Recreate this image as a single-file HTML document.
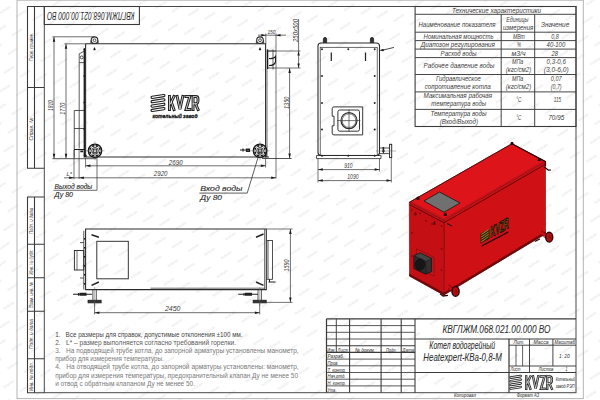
<!DOCTYPE html>
<html><head><meta charset="utf-8"><title>drawing</title>
<style>
html,body{margin:0;padding:0;background:#fff;overflow:hidden}
svg{display:block}
text{font-family:"Liberation Sans",sans-serif}
</style></head><body>
<svg width="600" height="400" viewBox="0 0 600 400">
<defs>
<pattern id="wm" width="16.8" height="19.2" patternUnits="userSpaceOnUse" patternTransform="translate(497 275.4) rotate(12.4) translate(-8.4 -9.6)">
<text x="8.4" y="10.6" font-size="2.9" font-weight="bold" fill="#e2e2e2" text-anchor="middle" textLength="12" lengthAdjust="spacingAndGlyphs" transform="rotate(-45.4 8.4 9.6)">KVZR.RU</text>
</pattern>
</defs>
<rect x="0" y="0" width="600" height="400" fill="#fff"/>
<rect x="0" y="0" width="600" height="400" fill="url(#wm)"/>

<rect x="17" y="0.2" width="566.3" height="398.4" fill="none" stroke="#b4b4b4" stroke-width="1.01" rx="0"/>
<rect x="44.3" y="6.5" width="531.7" height="386.2" fill="none" stroke="#444" stroke-width="0.97" rx="0"/>
<path d="M44.3,6.5H27.5V168.3H44.3 M34.5,6.5V168.3 M27.5,87.5H44.3" fill="none" stroke="#3a3a3a" stroke-width="1.08"/>
<path d="M44.3,197H27.5V392.7H44.3 M34.5,197V392.7 M27.5,244.2H44.3 M27.5,277.8H44.3 M27.5,311.3H44.3 M27.5,358.8H44.3" fill="none" stroke="#3a3a3a" stroke-width="1.08"/>
<text x="32.8" y="47" font-size="5.2" font-style="italic" fill="#3a3a3a" text-anchor="middle" textLength="28.5" lengthAdjust="spacingAndGlyphs" transform="rotate(-90 32.8 47)">Перв. примен.</text>
<text x="32.8" y="129" font-size="5.2" font-style="italic" fill="#3a3a3a" text-anchor="middle" textLength="23" lengthAdjust="spacingAndGlyphs" transform="rotate(-90 32.8 129)">Справ. №</text>
<text x="32.8" y="221" font-size="5.2" font-style="italic" fill="#3a3a3a" text-anchor="middle" textLength="26" lengthAdjust="spacingAndGlyphs" transform="rotate(-90 32.8 221)">Подп. и дата</text>
<text x="32.8" y="262" font-size="5.2" font-style="italic" fill="#3a3a3a" text-anchor="middle" textLength="25" lengthAdjust="spacingAndGlyphs" transform="rotate(-90 32.8 262)">Инв. № дубл.</text>
<text x="32.8" y="295" font-size="5.2" font-style="italic" fill="#3a3a3a" text-anchor="middle" textLength="26" lengthAdjust="spacingAndGlyphs" transform="rotate(-90 32.8 295)">Взам. инв. №</text>
<text x="32.8" y="334" font-size="5.2" font-style="italic" fill="#3a3a3a" text-anchor="middle" textLength="30" lengthAdjust="spacingAndGlyphs" transform="rotate(-90 32.8 334)">Подп. и дата</text>
<text x="32.8" y="376.5" font-size="5.2" font-style="italic" fill="#3a3a3a" text-anchor="middle" textLength="29" lengthAdjust="spacingAndGlyphs" transform="rotate(-90 32.8 376.5)">Инв. № подл.</text>
<rect x="44.3" y="6.5" width="95.1" height="18" fill="none" stroke="#3a3a3a" stroke-width="1.08" rx="0"/>
<text x="90.8" y="15.9" font-size="10.2" font-style="italic" fill="#2a2a2a" text-anchor="middle" textLength="87.5" lengthAdjust="spacingAndGlyphs" transform="rotate(180 90.8 15.9) translate(0 3.65)">КВГЛЖМ.068.021.00.000 ВО</text>
<path d="M85.6,43.8H265.6V157 H85.6 V43.8" fill="none" stroke="#2a2a2a" stroke-width="1.08"/>
<line x1="267" y1="69" x2="267" y2="157" stroke="#2a2a2a" stroke-width="0.68"/>
<line x1="52.5" y1="158.7" x2="96.5" y2="158.7" stroke="#2a2a2a" stroke-width="0.81"/>
<line x1="262" y1="158.5" x2="291.5" y2="158.5" stroke="#2a2a2a" stroke-width="0.81"/>
<circle cx="94.5" cy="40.2" r="3.3" fill="none" stroke="#2a2a2a" stroke-width="1.08"/>
<circle cx="94.5" cy="40.2" r="1.4" fill="none" stroke="#2a2a2a" stroke-width="0.81"/>
<line x1="90.9" y1="43.8" x2="90.9" y2="40.5" stroke="#2a2a2a" stroke-width="0.81"/>
<line x1="98.1" y1="43.8" x2="98.1" y2="40.5" stroke="#2a2a2a" stroke-width="0.81"/>
<path d="M94.5,47 l-1.2,2.4 a1.25,1.25 0 0 0 2.4,0 z" fill="#1a1a1a"/>
<circle cx="260" cy="40.2" r="3.3" fill="none" stroke="#2a2a2a" stroke-width="1.08"/>
<circle cx="260" cy="40.2" r="1.4" fill="none" stroke="#2a2a2a" stroke-width="0.81"/>
<line x1="256.4" y1="43.8" x2="256.4" y2="40.5" stroke="#2a2a2a" stroke-width="0.81"/>
<line x1="263.6" y1="43.8" x2="263.6" y2="40.5" stroke="#2a2a2a" stroke-width="0.81"/>
<path d="M260,47 l-1.2,2.4 a1.25,1.25 0 0 0 2.4,0 z" fill="#1a1a1a"/>
<path d="M79.2,53.8 V148.5 M84.3,51.2 L79.2,53.8 M79.2,62.6 H84.3" fill="none" stroke="#2a2a2a" stroke-width="0.75"/>
<line x1="84.3" y1="48.3" x2="84.3" y2="157.5" stroke="#1a1a1a" stroke-width="1.35"/>
<circle cx="81.7" cy="57.4" r="1.5" fill="none" stroke="#2a2a2a" stroke-width="0.81"/>
<circle cx="84.3" cy="49.5" r="0.9" fill="#1a1a1a"/>
<circle cx="84.3" cy="76" r="0.9" fill="#1a1a1a"/>
<circle cx="84.3" cy="102.5" r="0.9" fill="#1a1a1a"/>
<circle cx="84.3" cy="129" r="0.9" fill="#1a1a1a"/>
<path d="M74.25,110.5 V157.8 M74.25,110.5 H84 M74.25,128.5 H84 M74.25,149.5 H84" fill="none" stroke="#2a2a2a" stroke-width="0.8"/>
<circle cx="95" cy="150.8" r="6.7" fill="#fff" stroke="#111" stroke-width="1.28"/>
<circle cx="95" cy="150.8" r="5.2" fill="none" stroke="#2a2a2a" stroke-width="0.54"/>
<circle cx="95" cy="150.8" r="3.3" fill="none" stroke="#2a2a2a" stroke-width="0.94"/>
<rect x="93.4" y="149.20000000000002" width="3.2" height="3.2" fill="none" stroke="#222" stroke-width="0.81" rx="0"/>
<circle cx="99.71" cy="152.75" r="1.0" fill="#111"/>
<circle cx="96.95" cy="155.51" r="1.0" fill="#111"/>
<circle cx="93.05" cy="155.51" r="1.0" fill="#111"/>
<circle cx="90.29" cy="152.75" r="1.0" fill="#111"/>
<circle cx="90.29" cy="148.85" r="1.0" fill="#111"/>
<circle cx="93.05" cy="146.09" r="1.0" fill="#111"/>
<circle cx="96.95" cy="146.09" r="1.0" fill="#111"/>
<circle cx="99.71" cy="148.85" r="1.0" fill="#111"/>
<line x1="85.5" y1="150.8" x2="104.5" y2="150.8" stroke="#666" stroke-width="0.47"/>
<line x1="95" y1="141.3" x2="95" y2="160.3" stroke="#666" stroke-width="0.47"/>
<circle cx="260" cy="150.8" r="6.7" fill="#fff" stroke="#111" stroke-width="1.28"/>
<circle cx="260" cy="150.8" r="5.2" fill="none" stroke="#2a2a2a" stroke-width="0.54"/>
<circle cx="260" cy="150.8" r="3.3" fill="none" stroke="#2a2a2a" stroke-width="0.94"/>
<rect x="258.4" y="149.20000000000002" width="3.2" height="3.2" fill="none" stroke="#222" stroke-width="0.81" rx="0"/>
<circle cx="264.71" cy="152.75" r="1.0" fill="#111"/>
<circle cx="261.95" cy="155.51" r="1.0" fill="#111"/>
<circle cx="258.05" cy="155.51" r="1.0" fill="#111"/>
<circle cx="255.29" cy="152.75" r="1.0" fill="#111"/>
<circle cx="255.29" cy="148.85" r="1.0" fill="#111"/>
<circle cx="258.05" cy="146.09" r="1.0" fill="#111"/>
<circle cx="261.95" cy="146.09" r="1.0" fill="#111"/>
<circle cx="264.71" cy="148.85" r="1.0" fill="#111"/>
<line x1="250.5" y1="150.8" x2="269.5" y2="150.8" stroke="#666" stroke-width="0.47"/>
<line x1="260" y1="141.3" x2="260" y2="160.3" stroke="#666" stroke-width="0.47"/>
<path d="M74,149.5 H85" stroke="#1a1a1a" stroke-width="1.0" fill="none"/><path d="M80.3,151.4 h2.8 M84,154.5 l2.5,2" stroke="#1a1a1a" stroke-width="1.7" fill="none"/>
<path d="M240,150 h9 M243,148.6 v3 M246.5,149 h3 v2.4 h-3 z" stroke="#222" stroke-width="1.22" fill="none"/>
<path d="M266,152 v5 h3" stroke="#222" stroke-width="1.08" fill="none"/>
<path d="M267,51 H276 M267,68 H276 M273,49.4 V69.5" fill="none" stroke="#2a2a2a" stroke-width="0.75"/>
<line x1="267.5" y1="49.4" x2="267.5" y2="69" stroke="#1a1a1a" stroke-width="1.55"/>
<path d="M269,58.5 q5,0.5 6.5,-2 v5.5 q-1,3.5 -6.5,3.5" fill="none" stroke="#1a1a1a" stroke-width="1.1"/>
<line x1="54" y1="37" x2="54" y2="158.6" stroke="#2a2a2a" stroke-width="0.68"/>
<line x1="52.5" y1="36.8" x2="94.5" y2="36.8" stroke="#2a2a2a" stroke-width="0.68"/>
<polygon points="54,36.9 52.75,41.699999999999996 55.25,41.699999999999996" fill="#1a1a1a"/>
<polygon points="54,158.6 52.75,153.79999999999998 55.25,153.79999999999998" fill="#1a1a1a"/>
<line x1="66" y1="44" x2="66" y2="158.6" stroke="#2a2a2a" stroke-width="0.68"/>
<line x1="64.5" y1="43.8" x2="85.6" y2="43.8" stroke="#2a2a2a" stroke-width="0.68"/>
<polygon points="66,43.9 64.75,48.699999999999996 67.25,48.699999999999996" fill="#1a1a1a"/>
<polygon points="66,158.6 64.75,153.79999999999998 67.25,153.79999999999998" fill="#1a1a1a"/>
<text x="53.0" y="105.6" font-size="6.6" font-style="italic" fill="#3a3a3a" text-anchor="middle" textLength="10.8" lengthAdjust="spacingAndGlyphs" transform="rotate(-90 53.0 105.6)">1810</text>
<text x="64.6" y="108.7" font-size="6.6" font-style="italic" fill="#3a3a3a" text-anchor="middle" textLength="12" lengthAdjust="spacingAndGlyphs" transform="rotate(-90 64.6 108.7)">1770</text>
<line x1="258" y1="35.2" x2="286" y2="35.2" stroke="#2a2a2a" stroke-width="0.68"/>
<line x1="276" y1="33.5" x2="276" y2="178.5" stroke="#333" stroke-width="0.68"/>
<line x1="265.8" y1="33.5" x2="265.8" y2="43.8" stroke="#333" stroke-width="0.68"/>
<polygon points="265.8,35.2 261.3,34.0 261.3,36.400000000000006" fill="#1a1a1a"/>
<polygon points="276,35.2 280.5,34.0 280.5,36.400000000000006" fill="#1a1a1a"/>
<text x="267.4" y="33.8" font-size="5.6" font-style="italic" font-weight="normal" fill="#3a3a3a" stroke="#3a3a3a" stroke-width="0" textLength="8.20" lengthAdjust="spacingAndGlyphs">150</text>
<line x1="267" y1="51" x2="300.5" y2="51" stroke="#333" stroke-width="0.68"/>
<line x1="276" y1="68" x2="300.5" y2="68" stroke="#333" stroke-width="0.68"/>
<line x1="298.6" y1="19" x2="298.6" y2="68" stroke="#2a2a2a" stroke-width="0.68"/>
<polygon points="298.6,51 297.40000000000003,55.5 299.8,55.5" fill="#1a1a1a"/>
<polygon points="298.6,68 297.40000000000003,63.5 299.8,63.5" fill="#1a1a1a"/>
<text x="297.6" y="30.5" font-size="6.4" font-style="italic" fill="#3a3a3a" text-anchor="middle" textLength="23" lengthAdjust="spacingAndGlyphs" transform="rotate(-90 297.6 30.5)">250x500</text>
<line x1="289.6" y1="68" x2="289.6" y2="158.4" stroke="#2a2a2a" stroke-width="0.68"/>
<polygon points="289.6,68.1 288.35,72.89999999999999 290.85,72.89999999999999" fill="#1a1a1a"/>
<polygon points="289.6,158.4 288.35,153.6 290.85,153.6" fill="#1a1a1a"/>
<text x="288.8" y="102.8" font-size="6.6" font-style="italic" fill="#3a3a3a" text-anchor="middle" textLength="12.5" lengthAdjust="spacingAndGlyphs" transform="rotate(-90 288.8 102.8)">1350</text>
<line x1="85.6" y1="165.8" x2="265.6" y2="165.8" stroke="#2a2a2a" stroke-width="0.68"/>
<line x1="85.6" y1="158" x2="85.6" y2="167.5" stroke="#333" stroke-width="0.68"/>
<line x1="265.6" y1="158" x2="265.6" y2="167.5" stroke="#333" stroke-width="0.68"/>
<polygon points="85.6,165.8 90.39999999999999,164.55 90.39999999999999,167.05" fill="#1a1a1a"/>
<polygon points="265.6,165.8 260.8,164.55 260.8,167.05" fill="#1a1a1a"/>
<text x="168.8" y="164.8" font-size="6.6" font-style="italic" font-weight="normal" fill="#3a3a3a" stroke="#3a3a3a" stroke-width="0" textLength="13.80" lengthAdjust="spacingAndGlyphs">2690</text>
<line x1="64" y1="177.8" x2="276" y2="177.8" stroke="#2a2a2a" stroke-width="0.68"/>
<line x1="79.1" y1="150" x2="79.1" y2="179" stroke="#333" stroke-width="0.68"/>
<line x1="74" y1="150" x2="74" y2="179" stroke="#333" stroke-width="0.68"/>
<polygon points="79.1,177.8 83.89999999999999,176.55 83.89999999999999,179.05" fill="#1a1a1a"/>
<polygon points="276,177.8 271.2,176.55 271.2,179.05" fill="#1a1a1a"/>
<polygon points="74,177.8 69.2,176.55 69.2,179.05" fill="#1a1a1a"/>
<text x="153.8" y="176" font-size="6.6" font-style="italic" font-weight="normal" fill="#3a3a3a" stroke="#3a3a3a" stroke-width="0" textLength="13.70" lengthAdjust="spacingAndGlyphs">2920</text>
<text x="66.5" y="176" font-size="6.2" font-style="italic" font-weight="normal" fill="#3a3a3a" stroke="#3a3a3a" stroke-width="0" textLength="5.50" lengthAdjust="spacingAndGlyphs">L*</text>
<path d="M97,157.5 V190.3 H53.5" fill="none" stroke="#2a2a2a" stroke-width="0.68"/>
<text x="54.6" y="188.6" font-size="7.3" font-style="italic" font-weight="normal" fill="#222" stroke="#222" stroke-width="0.1" textLength="37.70" lengthAdjust="spacingAndGlyphs">Выход воды</text>
<text x="54.6" y="197.4" font-size="7.3" font-style="italic" font-weight="normal" fill="#222" stroke="#222" stroke-width="0.1" textLength="18.40" lengthAdjust="spacingAndGlyphs">Ду 80</text>
<path d="M260,151 L247.2,193.1 H199.3" fill="none" stroke="#2a2a2a" stroke-width="0.75"/>
<text x="200.3" y="190.8" font-size="8.1" font-style="italic" font-weight="normal" fill="#222" stroke="#222" stroke-width="0.1" textLength="42.20" lengthAdjust="spacingAndGlyphs">Вход воды</text>
<text x="200.3" y="200" font-size="8.1" font-style="italic" font-weight="normal" fill="#222" stroke="#222" stroke-width="0.1" textLength="21.70" lengthAdjust="spacingAndGlyphs">Ду 80</text>
<path d="M152.15,97.39 L163.85,95.56 M152.15,101.74 L163.85,99.91 M152.15,106.09 L163.85,104.26 M152.15,110.44 L163.85,108.61 " fill="none" stroke="#1e1e1e" stroke-width="3.3" stroke-linecap="round"/>
<path d="M152.15,97.39 L163.85,95.56 M152.15,101.74 L163.85,99.91 M152.15,106.09 L163.85,104.26 M152.15,110.44 L163.85,108.61 " fill="none" stroke="#fff" stroke-width="1.1" stroke-linecap="round"/>
<path d="M169.45,96.45 V109.55 M173.95,96.45 L170.34,103.96 M171.11,101.40 L173.95,109.55 M177.17,96.45 L179.97,109.11 L182.77,96.45 M185.99,96.45 H189.86 L185.99,109.55 H189.86 M193.07,109.55 V96.45 H195.96 Q198.05,96.45 198.05,99.48 Q198.05,103.80 195.96,103.80 H193.07 M195.56,103.80 L198.05,109.55" fill="none" stroke="#1e1e1e" stroke-width="2.9" stroke-linecap="square" stroke-linejoin="miter"/>
<path d="M169.45,96.45 V109.55 M173.95,96.45 L170.34,103.96 M171.11,101.40 L173.95,109.55 M177.17,96.45 L179.97,109.11 L182.77,96.45 M185.99,96.45 H189.86 L185.99,109.55 H189.86 M193.07,109.55 V96.45 H195.96 Q198.05,96.45 198.05,99.48 Q198.05,103.80 195.96,103.80 H193.07 M195.56,103.80 L198.05,109.55" fill="none" stroke="#fff" stroke-width="0.75" stroke-linecap="square" stroke-linejoin="miter"/>
<text x="152.5" y="117.6" font-size="5.6" font-style="italic" font-weight="bold" fill="#1a1a1a" stroke="#1a1a1a" stroke-width="0.3" textLength="45.00" lengthAdjust="spacingAndGlyphs">котельный завод</text>
<rect x="318" y="43" width="61.5" height="112.5" fill="none" stroke="#2a2a2a" stroke-width="1.08" rx="3"/>
<rect x="320.2" y="47.3" width="57" height="108" fill="none" stroke="#2a2a2a" stroke-width="0.68" rx="0"/>
<path d="M316.5,155.5 H381 V158.6 H316.5 Z" fill="none" stroke="#2a2a2a" stroke-width="0.81"/>
<path d="M323.4,43 V39 a1.6,1.6 0 0 1 3.2,0 V43" fill="#333" stroke="#222" stroke-width="0.81"/>
<path d="M370.4,43 V39 a1.6,1.6 0 0 1 3.2,0 V43" fill="#333" stroke="#222" stroke-width="0.81"/>
<circle cx="322" cy="49.3" r="0.95" fill="#1a1a1a"/>
<circle cx="348.3" cy="49.3" r="0.95" fill="#1a1a1a"/>
<circle cx="374.7" cy="49.3" r="0.95" fill="#1a1a1a"/>
<circle cx="322" cy="76" r="0.95" fill="#1a1a1a"/>
<circle cx="374.7" cy="76" r="0.95" fill="#1a1a1a"/>
<circle cx="322" cy="103" r="0.95" fill="#1a1a1a"/>
<circle cx="374.7" cy="103" r="0.95" fill="#1a1a1a"/>
<circle cx="322" cy="129.5" r="0.95" fill="#1a1a1a"/>
<circle cx="374.7" cy="129.5" r="0.95" fill="#1a1a1a"/>
<circle cx="322" cy="155.8" r="0.95" fill="#1a1a1a"/>
<circle cx="348.3" cy="155.8" r="0.95" fill="#1a1a1a"/>
<circle cx="374.7" cy="155.8" r="0.95" fill="#1a1a1a"/>
<line x1="331.3" y1="52.5" x2="331.3" y2="61" stroke="#222" stroke-width="1.22"/>
<line x1="365.5" y1="52.5" x2="365.5" y2="61" stroke="#222" stroke-width="1.22"/>
<path d="M379.5,50.5 l3,-1.5 l3,0.5 l-2.5,1.8 z" fill="#222"/>
<line x1="385" y1="49.6" x2="394" y2="47.4" stroke="#222" stroke-width="0.81"/>
<path d="M334,106.9 H362.7 V134.9 H334 a1.8,1.8 0 0 1 -1.8,-1.8 V125.8 h1.8 V116.2 h-1.8 V108.7 a1.8,1.8 0 0 1 1.8,-1.8 Z" fill="none" stroke="#2a2a2a" stroke-width="0.94"/>
<rect x="337.9" y="110" width="21.6" height="21.2" fill="none" stroke="#2a2a2a" stroke-width="0.94" rx="1.8"/>
<circle cx="349" cy="120.6" r="8.0" fill="none" stroke="#2a2a2a" stroke-width="1.15"/>
<circle cx="349" cy="120.6" r="6.8" fill="none" stroke="#2a2a2a" stroke-width="0.61"/>
<line x1="337" y1="120.6" x2="360.4" y2="120.6" stroke="#333" stroke-width="0.68"/>
<line x1="349" y1="109.6" x2="349" y2="131.8" stroke="#333" stroke-width="0.68"/>
<path d="M379.5,148 H389.8 M379.5,153.6 H389.8" stroke="#2a2a2a" stroke-width="0.81" fill="none"/>
<rect x="389.6" y="144.3" width="2.1" height="13.3" fill="none" stroke="#222" stroke-width="0.94" rx="0"/>
<path d="M383.4,147 v5" stroke="#222" stroke-width="1.6" fill="none"/>
<path d="M381.8,150.6 l3.2,0 l-1.6,3 z" fill="#1a1a1a"/>
<line x1="376" y1="151" x2="396" y2="151" stroke="#666" stroke-width="0.47"/>
<line x1="318" y1="158.6" x2="318" y2="182.5" stroke="#333" stroke-width="0.68"/>
<line x1="379.5" y1="158.6" x2="379.5" y2="171.5" stroke="#333" stroke-width="0.68"/>
<line x1="391.3" y1="157.5" x2="391.3" y2="182.5" stroke="#333" stroke-width="0.68"/>
<line x1="318" y1="169.6" x2="379.5" y2="169.6" stroke="#2a2a2a" stroke-width="0.68"/>
<polygon points="318,169.6 322.8,168.35 322.8,170.85" fill="#1a1a1a"/>
<polygon points="379.5,169.6 374.7,168.35 374.7,170.85" fill="#1a1a1a"/>
<text x="344.3" y="168.4" font-size="6.4" font-style="italic" font-weight="normal" fill="#3a3a3a" stroke="#3a3a3a" stroke-width="0" textLength="8.30" lengthAdjust="spacingAndGlyphs">910</text>
<line x1="318" y1="180.6" x2="391.3" y2="180.6" stroke="#2a2a2a" stroke-width="0.68"/>
<polygon points="318,180.6 322.8,179.35 322.8,181.85" fill="#1a1a1a"/>
<polygon points="391.3,180.6 386.5,179.35 386.5,181.85" fill="#1a1a1a"/>
<text x="347.3" y="179.4" font-size="6.4" font-style="italic" font-weight="normal" fill="#3a3a3a" stroke="#3a3a3a" stroke-width="0" textLength="11.30" lengthAdjust="spacingAndGlyphs">1090</text>
<path d="M85.6,229 H266.3 V289.6 H85.6 Z" fill="none" stroke="#2a2a2a" stroke-width="1.08"/>
<line x1="264.6" y1="229" x2="264.6" y2="289.6" stroke="#2a2a2a" stroke-width="0.68"/>
<line x1="150.5" y1="288.2" x2="264.6" y2="288.2" stroke="#2a2a2a" stroke-width="0.68"/>
<rect x="96.8" y="241.3" width="31.5" height="37.5" fill="none" stroke="#2a2a2a" stroke-width="0.94" rx="0"/>
<line x1="91.5" y1="234.7" x2="98.9" y2="237.3" stroke="#222" stroke-width="1.49"/>
<line x1="91.5" y1="285.4" x2="98.9" y2="282" stroke="#222" stroke-width="1.49"/>
<line x1="256" y1="237.3" x2="263.5" y2="234" stroke="#222" stroke-width="1.49"/>
<line x1="256" y1="282" x2="263.5" y2="285.4" stroke="#222" stroke-width="1.49"/>
<line x1="83.8" y1="230.8" x2="83.8" y2="289.6" stroke="#2a2a2a" stroke-width="0.81"/>
<rect x="74.4" y="250.5" width="9.4" height="19.5" fill="none" stroke="#2a2a2a" stroke-width="0.94" rx="0"/>
<line x1="77" y1="250.5" x2="77" y2="270" stroke="#2a2a2a" stroke-width="0.68"/>
<line x1="80" y1="242.6" x2="83.8" y2="242.6" stroke="#2a2a2a" stroke-width="0.81"/>
<line x1="80" y1="278" x2="83.8" y2="278" stroke="#2a2a2a" stroke-width="0.81"/>
<line x1="84.7" y1="238" x2="84.7" y2="239.6" stroke="#222" stroke-width="1.62"/>
<line x1="84.7" y1="247" x2="84.7" y2="248.6" stroke="#222" stroke-width="1.62"/>
<line x1="84.7" y1="256" x2="84.7" y2="257.6" stroke="#222" stroke-width="1.62"/>
<line x1="84.7" y1="265" x2="84.7" y2="266.6" stroke="#222" stroke-width="1.62"/>
<line x1="84.7" y1="274" x2="84.7" y2="275.6" stroke="#222" stroke-width="1.62"/>
<line x1="84.7" y1="283" x2="84.7" y2="284.6" stroke="#222" stroke-width="1.62"/>
<line x1="92.89999999999999" y1="289.6" x2="92.89999999999999" y2="300.3" stroke="#2a2a2a" stroke-width="0.81"/>
<line x1="96.3" y1="289.6" x2="96.3" y2="300.3" stroke="#2a2a2a" stroke-width="0.81"/>
<rect x="88.1" y="300.3" width="13" height="2.5" fill="#333" stroke="#222" stroke-width="0.94" rx="0"/>
<line x1="94.6" y1="287" x2="94.6" y2="306" stroke="#666" stroke-width="0.47"/>
<line x1="258.0" y1="289.6" x2="258.0" y2="300.3" stroke="#2a2a2a" stroke-width="0.81"/>
<line x1="261.4" y1="289.6" x2="261.4" y2="300.3" stroke="#2a2a2a" stroke-width="0.81"/>
<rect x="253.2" y="300.3" width="13" height="2.5" fill="#333" stroke="#222" stroke-width="0.94" rx="0"/>
<line x1="259.7" y1="287" x2="259.7" y2="306" stroke="#666" stroke-width="0.47"/>
<path d="M73,294.3 H92 M78.5,293 v2.8 M80,293.3 h6 v2 h-6 z" stroke="#222" stroke-width="1.08" fill="none"/>
<path d="M238.3,294.3 H258 M244,293 v2.8 M245.5,293.3 h6 v2 h-6 z" stroke="#222" stroke-width="1.08" fill="none"/>
<rect x="268" y="240.5" width="4.4" height="38.8" fill="none" stroke="#2a2a2a" stroke-width="0.81" rx="0"/>
<line x1="266.3" y1="240.5" x2="268" y2="240.5" stroke="#2a2a2a" stroke-width="0.68"/>
<line x1="266.3" y1="279.3" x2="268" y2="279.3" stroke="#2a2a2a" stroke-width="0.68"/>
<path d="M268.5,282 H275.5 M269.5,279.3 V282" stroke="#222" stroke-width="1.08" fill="none"/>
<line x1="94.6" y1="303" x2="94.6" y2="314.5" stroke="#333" stroke-width="0.68"/>
<line x1="259.7" y1="303" x2="259.7" y2="314.5" stroke="#333" stroke-width="0.68"/>
<line x1="94.6" y1="312.7" x2="259.7" y2="312.7" stroke="#2a2a2a" stroke-width="0.68"/>
<polygon points="94.6,312.7 99.39999999999999,311.45 99.39999999999999,313.95" fill="#1a1a1a"/>
<polygon points="259.7,312.7 254.89999999999998,311.45 254.89999999999998,313.95" fill="#1a1a1a"/>
<text x="165" y="311.3" font-size="6.4" font-style="italic" font-weight="normal" fill="#3a3a3a" stroke="#3a3a3a" stroke-width="0" textLength="15.50" lengthAdjust="spacingAndGlyphs">2450</text>
<line x1="266.3" y1="229" x2="292.5" y2="229" stroke="#333" stroke-width="0.68"/>
<line x1="266.3" y1="302.4" x2="292.5" y2="302.4" stroke="#333" stroke-width="0.68"/>
<line x1="290.4" y1="229" x2="290.4" y2="302.4" stroke="#2a2a2a" stroke-width="0.68"/>
<polygon points="290.4,229.1 289.15,233.9 291.65,233.9" fill="#1a1a1a"/>
<polygon points="290.4,302.3 289.15,297.5 291.65,297.5" fill="#1a1a1a"/>
<text x="289.2" y="265.5" font-size="6.6" font-style="italic" fill="#3a3a3a" text-anchor="middle" textLength="12" lengthAdjust="spacingAndGlyphs" transform="rotate(-90 289.2 265.5)">1590</text>
<text x="55.2" y="336.8" font-size="7.2" font-style="normal" font-weight="normal" fill="#444" stroke="#444" stroke-width="0" textLength="187.30" lengthAdjust="spacingAndGlyphs">1.&#160;&#160;&#160;Все размеры для справок, допустимые отклонения ±100 мм.</text>
<text x="55.2" y="344.9" font-size="7.2" font-style="normal" font-weight="normal" fill="#5a5a5a" stroke="#5a5a5a" stroke-width="0" textLength="180.80" lengthAdjust="spacingAndGlyphs">2.&#160;&#160;&#160;L* – размер выполняется согласно требований горелки.</text>
<text x="55.2" y="353.2" font-size="7.2" font-style="normal" font-weight="normal" fill="#7a7a7a" stroke="#7a7a7a" stroke-width="0" textLength="243.50" lengthAdjust="spacingAndGlyphs">3.&#160;&#160;&#160;На подводящей трубе котла, до запорной арматуры установлены манометр,</text>
<text x="55.2" y="361.3" font-size="7.2" font-style="normal" font-weight="normal" fill="#7a7a7a" stroke="#7a7a7a" stroke-width="0" textLength="108.50" lengthAdjust="spacingAndGlyphs">прибор для измерения температуры.</text>
<text x="55.2" y="369.4" font-size="7.2" font-style="normal" font-weight="normal" fill="#7a7a7a" stroke="#7a7a7a" stroke-width="0" textLength="243.50" lengthAdjust="spacingAndGlyphs">4.&#160;&#160;&#160;На отводящей трубе котла, до запорной арматуры установлены: манометр,</text>
<text x="55.2" y="377.6" font-size="7.2" font-style="normal" font-weight="normal" fill="#7a7a7a" stroke="#7a7a7a" stroke-width="0" textLength="242.80" lengthAdjust="spacingAndGlyphs">прибор для измерения температуры, предохранительный клапан Ду не менее 50</text>
<text x="55.2" y="385.9" font-size="7.2" font-style="normal" font-weight="normal" fill="#7a7a7a" stroke="#7a7a7a" stroke-width="0" textLength="139.80" lengthAdjust="spacingAndGlyphs">и отвод с обратным клапаном Ду не менее 50.</text>
<rect x="415.1" y="6.5" width="160.89999999999998" height="120.0" fill="none" stroke="#3a3a3a" stroke-width="1.08" rx="0"/>
<line x1="415.1" y1="14.3" x2="576" y2="14.3" stroke="#3a3a3a" stroke-width="0.94"/>
<line x1="415.1" y1="32.2" x2="576" y2="32.2" stroke="#3a3a3a" stroke-width="0.94"/>
<line x1="415.1" y1="40.6" x2="576" y2="40.6" stroke="#3a3a3a" stroke-width="0.94"/>
<line x1="415.1" y1="49.1" x2="576" y2="49.1" stroke="#3a3a3a" stroke-width="0.94"/>
<line x1="415.1" y1="57.6" x2="576" y2="57.6" stroke="#3a3a3a" stroke-width="0.94"/>
<line x1="415.1" y1="74.5" x2="576" y2="74.5" stroke="#3a3a3a" stroke-width="0.94"/>
<line x1="415.1" y1="91.9" x2="576" y2="91.9" stroke="#3a3a3a" stroke-width="0.94"/>
<line x1="415.1" y1="109.4" x2="576" y2="109.4" stroke="#3a3a3a" stroke-width="0.94"/>
<line x1="501.2" y1="14.3" x2="501.2" y2="126.5" stroke="#3a3a3a" stroke-width="0.94"/>
<line x1="534.7" y1="14.3" x2="534.7" y2="126.5" stroke="#3a3a3a" stroke-width="0.94"/>
<text x="452" y="12.6" font-size="6.6" font-style="italic" font-weight="normal" fill="#3c3c3c" stroke="#3c3c3c" stroke-width="0" textLength="89.00" lengthAdjust="spacingAndGlyphs">Технические характеристики</text>
<text x="418.5" y="26.9" font-size="6.6" font-style="italic" font-weight="normal" fill="#3c3c3c" stroke="#3c3c3c" stroke-width="0" textLength="77.10" lengthAdjust="spacingAndGlyphs">Наименование показателя</text>
<text x="506.3" y="21.6" font-size="6.6" font-style="italic" font-weight="normal" fill="#3c3c3c" stroke="#3c3c3c" stroke-width="0" textLength="22.10" lengthAdjust="spacingAndGlyphs">Единицы</text>
<text x="503" y="30" font-size="6.6" font-style="italic" font-weight="normal" fill="#3c3c3c" stroke="#3c3c3c" stroke-width="0" textLength="30.30" lengthAdjust="spacingAndGlyphs">измерения</text>
<text x="541" y="26.9" font-size="6.6" font-style="italic" font-weight="normal" fill="#3c3c3c" stroke="#3c3c3c" stroke-width="0" textLength="28.30" lengthAdjust="spacingAndGlyphs">Значение</text>
<text x="423.6" y="38.9" font-size="6.6" font-style="italic" font-weight="normal" fill="#3c3c3c" stroke="#3c3c3c" stroke-width="0" textLength="70.00" lengthAdjust="spacingAndGlyphs">Номинальная мощность</text>
<text x="512.9" y="38.9" font-size="6.6" font-style="italic" font-weight="normal" fill="#3c3c3c" stroke="#3c3c3c" stroke-width="0" textLength="11.90" lengthAdjust="spacingAndGlyphs">МВт</text>
<text x="551.2" y="38.9" font-size="6.6" font-style="italic" font-weight="normal" fill="#3c3c3c" stroke="#3c3c3c" stroke-width="0" textLength="7.60" lengthAdjust="spacingAndGlyphs">0,8</text>
<text x="420.8" y="47.3" font-size="6.6" font-style="italic" font-weight="normal" fill="#3c3c3c" stroke="#3c3c3c" stroke-width="0" textLength="74.20" lengthAdjust="spacingAndGlyphs">Диапозон регулирования</text>
<text x="517" y="47.3" font-size="6.6" font-style="italic" font-weight="normal" fill="#3c3c3c" stroke="#3c3c3c" stroke-width="0" textLength="4.00" lengthAdjust="spacingAndGlyphs">%</text>
<text x="546.6" y="47.3" font-size="6.6" font-style="italic" font-weight="normal" fill="#3c3c3c" stroke="#3c3c3c" stroke-width="0" textLength="18.70" lengthAdjust="spacingAndGlyphs">40-100</text>
<text x="440.6" y="55.8" font-size="6.6" font-style="italic" font-weight="normal" fill="#3c3c3c" stroke="#3c3c3c" stroke-width="0" textLength="36.00" lengthAdjust="spacingAndGlyphs">Расход воды</text>
<text x="511.4" y="55.8" font-size="6.6" font-style="italic" font-weight="normal" fill="#3c3c3c" stroke="#3c3c3c" stroke-width="0" textLength="14.20" lengthAdjust="spacingAndGlyphs">м3/ч</text>
<text x="551.4" y="55.8" font-size="6.6" font-style="italic" font-weight="normal" fill="#3c3c3c" stroke="#3c3c3c" stroke-width="0" textLength="6.60" lengthAdjust="spacingAndGlyphs">28</text>
<text x="423.6" y="68.2" font-size="6.6" font-style="italic" font-weight="normal" fill="#3c3c3c" stroke="#3c3c3c" stroke-width="0" textLength="70.80" lengthAdjust="spacingAndGlyphs">Рабочее давление воды</text>
<text x="512" y="63.6" font-size="6.6" font-style="italic" font-weight="normal" fill="#3c3c3c" stroke="#3c3c3c" stroke-width="0" textLength="11.30" lengthAdjust="spacingAndGlyphs">МПа</text>
<text x="505.8" y="72.1" font-size="6.6" font-style="italic" font-weight="normal" fill="#3c3c3c" stroke="#3c3c3c" stroke-width="0" textLength="25.50" lengthAdjust="spacingAndGlyphs">(кгс/см2)</text>
<text x="546.6" y="63.6" font-size="6.6" font-style="italic" font-weight="normal" fill="#3c3c3c" stroke="#3c3c3c" stroke-width="0" textLength="19.30" lengthAdjust="spacingAndGlyphs">0,3-0,6</text>
<text x="543.7" y="72.1" font-size="6.6" font-style="italic" font-weight="normal" fill="#3c3c3c" stroke="#3c3c3c" stroke-width="0" textLength="25.00" lengthAdjust="spacingAndGlyphs">(3,0-6,0)</text>
<text x="436" y="80.8" font-size="6.6" font-style="italic" font-weight="normal" fill="#3c3c3c" stroke="#3c3c3c" stroke-width="0" textLength="44.80" lengthAdjust="spacingAndGlyphs">Гидравлическое</text>
<text x="424.7" y="89.3" font-size="6.6" font-style="italic" font-weight="normal" fill="#3c3c3c" stroke="#3c3c3c" stroke-width="0" textLength="66.10" lengthAdjust="spacingAndGlyphs">сопротивление котла</text>
<text x="512" y="80.8" font-size="6.6" font-style="italic" font-weight="normal" fill="#3c3c3c" stroke="#3c3c3c" stroke-width="0" textLength="11.30" lengthAdjust="spacingAndGlyphs">МПа</text>
<text x="505.8" y="89.3" font-size="6.6" font-style="italic" font-weight="normal" fill="#3c3c3c" stroke="#3c3c3c" stroke-width="0" textLength="25.50" lengthAdjust="spacingAndGlyphs">(кгс/см2)</text>
<text x="550.8" y="80.8" font-size="6.6" font-style="italic" font-weight="normal" fill="#3c3c3c" stroke="#3c3c3c" stroke-width="0" textLength="10.80" lengthAdjust="spacingAndGlyphs">0,07</text>
<text x="550.8" y="89.3" font-size="6.6" font-style="italic" font-weight="normal" fill="#3c3c3c" stroke="#3c3c3c" stroke-width="0" textLength="10.80" lengthAdjust="spacingAndGlyphs">(0,7)</text>
<text x="423.6" y="97.6" font-size="6.6" font-style="italic" font-weight="normal" fill="#3c3c3c" stroke="#3c3c3c" stroke-width="0" textLength="68.60" lengthAdjust="spacingAndGlyphs">Максимальная рабочая</text>
<text x="431.3" y="106.2" font-size="6.6" font-style="italic" font-weight="normal" fill="#3c3c3c" stroke="#3c3c3c" stroke-width="0" textLength="54.70" lengthAdjust="spacingAndGlyphs">температура воды</text>
<text x="516.3" y="102" font-size="6.6" font-style="italic" font-weight="normal" fill="#3c3c3c" stroke="#3c3c3c" stroke-width="0" textLength="5.00" lengthAdjust="spacingAndGlyphs">°C</text>
<text x="553.8" y="102" font-size="6.6" font-style="italic" font-weight="normal" fill="#3c3c3c" stroke="#3c3c3c" stroke-width="0" textLength="7.20" lengthAdjust="spacingAndGlyphs">115</text>
<text x="430.4" y="115.6" font-size="6.6" font-style="italic" font-weight="normal" fill="#3c3c3c" stroke="#3c3c3c" stroke-width="0" textLength="56.10" lengthAdjust="spacingAndGlyphs">Температура воды</text>
<text x="439.8" y="124.2" font-size="6.6" font-style="italic" font-weight="normal" fill="#3c3c3c" stroke="#3c3c3c" stroke-width="0" textLength="38.20" lengthAdjust="spacingAndGlyphs">(Вход/Выход)</text>
<text x="516.3" y="120" font-size="6.6" font-style="italic" font-weight="normal" fill="#3c3c3c" stroke="#3c3c3c" stroke-width="0" textLength="5.00" lengthAdjust="spacingAndGlyphs">°C</text>
<text x="548.3" y="120" font-size="6.6" font-style="italic" font-weight="normal" fill="#3c3c3c" stroke="#3c3c3c" stroke-width="0" textLength="16.10" lengthAdjust="spacingAndGlyphs">70/95</text>
<line x1="326.5" y1="318.9" x2="576" y2="318.9" stroke="#3a3a3a" stroke-width="1.22"/>
<line x1="326.5" y1="318.9" x2="326.5" y2="392.7" stroke="#3a3a3a" stroke-width="1.22"/>
<line x1="336.3" y1="318.9" x2="336.3" y2="352.4" stroke="#3a3a3a" stroke-width="0.94"/>
<line x1="349.6" y1="318.9" x2="349.6" y2="392.7" stroke="#3a3a3a" stroke-width="1.08"/>
<line x1="381.1" y1="318.9" x2="381.1" y2="392.7" stroke="#3a3a3a" stroke-width="1.08"/>
<line x1="401.2" y1="318.9" x2="401.2" y2="392.7" stroke="#3a3a3a" stroke-width="1.08"/>
<line x1="415" y1="318.9" x2="415" y2="392.7" stroke="#3a3a3a" stroke-width="1.08"/>
<line x1="326.5" y1="325.6" x2="415" y2="325.6" stroke="#3a3a3a" stroke-width="0.84"/>
<line x1="326.5" y1="332.3" x2="415" y2="332.3" stroke="#3a3a3a" stroke-width="0.84"/>
<line x1="326.5" y1="339.0" x2="415" y2="339.0" stroke="#3a3a3a" stroke-width="0.84"/>
<line x1="326.5" y1="345.7" x2="415" y2="345.7" stroke="#3a3a3a" stroke-width="1.08"/>
<line x1="326.5" y1="352.4" x2="415" y2="352.4" stroke="#3a3a3a" stroke-width="1.08"/>
<line x1="326.5" y1="359.1" x2="415" y2="359.1" stroke="#3a3a3a" stroke-width="0.84"/>
<line x1="326.5" y1="365.8" x2="415" y2="365.8" stroke="#3a3a3a" stroke-width="0.84"/>
<line x1="326.5" y1="372.5" x2="415" y2="372.5" stroke="#3a3a3a" stroke-width="0.84"/>
<line x1="326.5" y1="379.2" x2="415" y2="379.2" stroke="#3a3a3a" stroke-width="0.84"/>
<line x1="326.5" y1="385.9" x2="415" y2="385.9" stroke="#3a3a3a" stroke-width="0.84"/>
<line x1="415" y1="339" x2="576" y2="339" stroke="#3a3a3a" stroke-width="1.22"/>
<line x1="415" y1="372.5" x2="576" y2="372.5" stroke="#3a3a3a" stroke-width="1.22"/>
<line x1="509" y1="339" x2="509" y2="392.7" stroke="#3a3a3a" stroke-width="1.22"/>
<line x1="509" y1="345.2" x2="576" y2="345.2" stroke="#3a3a3a" stroke-width="0.94"/>
<line x1="509" y1="366" x2="576" y2="366" stroke="#3a3a3a" stroke-width="0.94"/>
<line x1="529.5" y1="339" x2="529.5" y2="372.5" stroke="#3a3a3a" stroke-width="0.94"/>
<line x1="552.9" y1="339" x2="552.9" y2="366" stroke="#3a3a3a" stroke-width="0.94"/>
<line x1="516" y1="345.2" x2="516" y2="366" stroke="#3a3a3a" stroke-width="0.81"/>
<line x1="522.6" y1="345.2" x2="522.6" y2="366" stroke="#3a3a3a" stroke-width="0.81"/>
<text x="327.3" y="351.6" font-size="5.7" font-style="italic" font-weight="normal" fill="#3a3a3a" stroke="#3a3a3a" stroke-width="0.05" textLength="8.30" lengthAdjust="spacingAndGlyphs">Изм.</text>
<text x="337.6" y="351.6" font-size="5.7" font-style="italic" font-weight="normal" fill="#3a3a3a" stroke="#3a3a3a" stroke-width="0.05" textLength="10.70" lengthAdjust="spacingAndGlyphs">Лист</text>
<text x="355" y="351.6" font-size="5.7" font-style="italic" font-weight="normal" fill="#3a3a3a" stroke="#3a3a3a" stroke-width="0.05" textLength="20.00" lengthAdjust="spacingAndGlyphs">№ докум.</text>
<text x="386" y="351.6" font-size="5.7" font-style="italic" font-weight="normal" fill="#3a3a3a" stroke="#3a3a3a" stroke-width="0.05" textLength="10.50" lengthAdjust="spacingAndGlyphs">Подп.</text>
<text x="402.3" y="351.6" font-size="5.7" font-style="italic" font-weight="normal" fill="#3a3a3a" stroke="#3a3a3a" stroke-width="0.05" textLength="11.70" lengthAdjust="spacingAndGlyphs">Дата</text>
<text x="327.6" y="358.3" font-size="5.7" font-style="italic" font-weight="normal" fill="#3a3a3a" stroke="#3a3a3a" stroke-width="0.05" textLength="16.40" lengthAdjust="spacingAndGlyphs">Разраб.</text>
<text x="327.6" y="365" font-size="5.7" font-style="italic" font-weight="normal" fill="#3a3a3a" stroke="#3a3a3a" stroke-width="0.05" textLength="10.90" lengthAdjust="spacingAndGlyphs">Пров.</text>
<text x="327.6" y="371.7" font-size="5.7" font-style="italic" font-weight="normal" fill="#3a3a3a" stroke="#3a3a3a" stroke-width="0.05" textLength="18.40" lengthAdjust="spacingAndGlyphs">Т. контр.</text>
<text x="327.6" y="378.4" font-size="5.7" font-style="italic" font-weight="normal" fill="#3a3a3a" stroke="#3a3a3a" stroke-width="0.05" textLength="17.90" lengthAdjust="spacingAndGlyphs">Нач.отд.</text>
<text x="327.6" y="385.1" font-size="5.7" font-style="italic" font-weight="normal" fill="#3a3a3a" stroke="#3a3a3a" stroke-width="0.05" textLength="18.40" lengthAdjust="spacingAndGlyphs">Н. контр.</text>
<text x="327.6" y="391.8" font-size="5.7" font-style="italic" font-weight="normal" fill="#3a3a3a" stroke="#3a3a3a" stroke-width="0.05" textLength="8.90" lengthAdjust="spacingAndGlyphs">Утв.</text>
<text x="513.5" y="344" font-size="5.7" font-style="italic" font-weight="normal" fill="#3a3a3a" stroke="#3a3a3a" stroke-width="0.05" textLength="11.00" lengthAdjust="spacingAndGlyphs">Лит.</text>
<text x="533.5" y="344" font-size="5.7" font-style="italic" font-weight="normal" fill="#3a3a3a" stroke="#3a3a3a" stroke-width="0.05" textLength="15.00" lengthAdjust="spacingAndGlyphs">Масса</text>
<text x="554.5" y="344" font-size="5.7" font-style="italic" font-weight="normal" fill="#3a3a3a" stroke="#3a3a3a" stroke-width="0.05" textLength="20.50" lengthAdjust="spacingAndGlyphs">Масштаб</text>
<text x="510.5" y="371.2" font-size="5.7" font-style="italic" font-weight="normal" fill="#3a3a3a" stroke="#3a3a3a" stroke-width="0.05" textLength="10.00" lengthAdjust="spacingAndGlyphs">Лист</text>
<text x="538.5" y="371.2" font-size="5.7" font-style="italic" font-weight="normal" fill="#3a3a3a" stroke="#3a3a3a" stroke-width="0.05" textLength="15.00" lengthAdjust="spacingAndGlyphs">Листов</text>
<text x="565.5" y="371.2" font-size="5.7" font-style="italic" font-weight="normal" fill="#3a3a3a" stroke="#3a3a3a" stroke-width="0.05" textLength="2.00" lengthAdjust="spacingAndGlyphs">1</text>
<text x="559" y="358.3" font-size="5.7" font-style="italic" font-weight="normal" fill="#3a3a3a" stroke="#3a3a3a" stroke-width="0.05" textLength="10.70" lengthAdjust="spacingAndGlyphs">1: 20</text>
<text x="442.5" y="332.7" font-size="10.3" font-style="italic" font-weight="normal" fill="#2a2a2a" stroke="#2a2a2a" stroke-width="0.05" textLength="108.00" lengthAdjust="spacingAndGlyphs">КВГЛЖМ.068.021.00.000 ВО</text>
<text x="429.3" y="349.3" font-size="10.4" font-style="italic" font-weight="normal" fill="#2a2a2a" stroke="#2a2a2a" stroke-width="0.05" textLength="65.90" lengthAdjust="spacingAndGlyphs">Котел водогрейный</text>
<text x="423.3" y="360.6" font-size="10.4" font-style="italic" font-weight="normal" fill="#2a2a2a" stroke="#2a2a2a" stroke-width="0.05" textLength="78.50" lengthAdjust="spacingAndGlyphs">Heatexpert-КВа-0,8-М</text>
<text x="454" y="397" font-size="5.7" font-style="italic" font-weight="normal" fill="#3a3a3a" stroke="#3a3a3a" stroke-width="0.05" textLength="22.00" lengthAdjust="spacingAndGlyphs">Копировал</text>
<text x="516.7" y="397" font-size="5.7" font-style="italic" font-weight="normal" fill="#3a3a3a" stroke="#3a3a3a" stroke-width="0.05" textLength="22.30" lengthAdjust="spacingAndGlyphs">Формат А3</text>
<path d="M510.75,377.59 L520.55,376.06 M510.75,381.24 L520.55,379.71 M510.75,384.89 L520.55,383.36 M510.75,388.54 L520.55,387.01 " fill="none" stroke="#1e1e1e" stroke-width="2.7" stroke-linecap="round"/>
<path d="M510.75,377.59 L520.55,376.06 M510.75,381.24 L520.55,379.71 M510.75,384.89 L520.55,383.36 M510.75,388.54 L520.55,387.01 " fill="none" stroke="#fff" stroke-width="0.9" stroke-linecap="round"/>
<path d="M526.20,376.50 V388.80 M530.38,376.50 L526.99,383.53 M527.76,381.18 L530.38,388.80 M533.06,376.50 L535.64,388.44 L538.22,376.50 M540.90,376.50 H544.52 L540.90,388.80 H544.52 M547.20,388.80 V376.50 H549.85 Q551.80,376.50 551.80,379.42 Q551.80,383.38 549.85,383.38 H547.20 M549.50,383.38 L551.80,388.80" fill="none" stroke="#1e1e1e" stroke-width="2.4" stroke-linecap="square" stroke-linejoin="miter"/>
<path d="M526.20,376.50 V388.80 M530.38,376.50 L526.99,383.53 M527.76,381.18 L530.38,388.80 M533.06,376.50 L535.64,388.44 L538.22,376.50 M540.90,376.50 H544.52 L540.90,388.80 H544.52 M547.20,388.80 V376.50 H549.85 Q551.80,376.50 551.80,379.42 Q551.80,383.38 549.85,383.38 H547.20 M549.50,383.38 L551.80,388.80" fill="none" stroke="#fff" stroke-width="0.7" stroke-linecap="square" stroke-linejoin="miter"/>
<text x="555.7" y="380.8" font-size="5.7" font-style="italic" font-weight="normal" fill="#3a3a3a" stroke="#3a3a3a" stroke-width="0.05" textLength="19.30" lengthAdjust="spacingAndGlyphs">Котельный</text>
<text x="555.7" y="387.8" font-size="5.7" font-style="italic" font-weight="normal" fill="#3a3a3a" stroke="#3a3a3a" stroke-width="0.05" textLength="18.80" lengthAdjust="spacingAndGlyphs">завод РЭП</text>
<g stroke-linejoin="round">
<polygon points="409.3,202.3 512,143.7 545.5,161.6 444,220.3" fill="#dd151a" stroke="#6e0608" stroke-width="0.6"/>
<polygon points="444,220.3 545.5,161.6 545.5,233.8 443.8,295" fill="#cf1116" stroke="#6e0608" stroke-width="0.6"/>
<polygon points="409.3,202.3 444,220.3 443.8,295 409.5,276" fill="#c40f14" stroke="#6e0608" stroke-width="0.6"/>
<polygon points="409.5,274.3 443.8,293 545.5,231.8 545.5,233.8 443.8,295 409.5,276" fill="#7a080b" stroke="#4a0506" stroke-width="0.5"/>
<path d="M440,293.8 l3,2.2 l5,-0.6" stroke="#2a0808" stroke-width="1.3" fill="none"/>
<path d="M409.3,204.6 L444,222.8 L545.5,164.2" fill="none" stroke="#4a0405" stroke-width="0.8"/>
<path d="M411.5,202.2 L444.2,218.6 L542.5,161.8" fill="none" stroke="#a50b0f" stroke-width="0.5"/>
<path d="M512,143.7 L545.5,161.6 V166" fill="none" stroke="#2a0506" stroke-width="1.2"/>
<path d="M409.3,202.3 L512,143.7" fill="none" stroke="#3a0607" stroke-width="0.8"/>
<polygon points="424,201 439.5,192 460,203 444,212.2" fill="#707070" stroke="#2a1a1a" stroke-width="0.9"/>
<path d="M416.4,198.5 a1.6,1.9 0 0 1 3.2,0 v1.2 h-3.2 z" fill="#2a0a0a"/>
<path d="M443.7,214.7 a1.6,1.9 0 0 1 3.2,0 v1.2 h-3.2 z" fill="#2a0a0a"/>
<path d="M510.4,143.6 a1.6,1.9 0 0 1 3.2,0 v1.2 h-3.2 z" fill="#2a0a0a"/>
<path d="M537.6,159.79999999999998 a1.6,1.9 0 0 1 3.2,0 v1.2 h-3.2 z" fill="#2a0a0a"/>
<path d="M544,166.8 l4.5,3.4 l2.5,-0.2" stroke="#2a0a0a" stroke-width="1.2" fill="none"/>
<path d="M447,223.5 l5,2.5" stroke="#2a0a0a" stroke-width="1.2" fill="none"/>
<path d="M534.8,241.5 l5,-2.6" stroke="#2a0a0a" stroke-width="1.4" fill="none"/>
<circle cx="412" cy="210" r="0.7" fill="#5a0508"/>
<circle cx="412" cy="233" r="0.7" fill="#5a0508"/>
<circle cx="412" cy="256" r="0.7" fill="#5a0508"/>
<circle cx="441.5" cy="226" r="0.7" fill="#5a0508"/>
<circle cx="441.5" cy="249" r="0.7" fill="#5a0508"/>
<circle cx="441.5" cy="270" r="0.7" fill="#5a0508"/>
<circle cx="426" cy="221" r="0.7" fill="#5a0508"/>
<circle cx="432" cy="224" r="0.7" fill="#5a0508"/>
<circle cx="420" cy="213.5" r="0.7" fill="#5a0508"/>
<path d="M414.5,213 l1.6,-1.6 l0.4,3.6 l-2,0.4 z M433.5,222.5 l1.6,-1.6 l0.4,3.6 l-2,0.4 z" fill="#4a0507"/>
<polygon points="416.5,248.8 434,257.3 434,276 416.5,267.6" fill="#c8141a" stroke="#7a080b" stroke-width="0.6"/>
<polygon points="414,255.6 420.2,253 431.6,258.4 431.6,271.6 425.8,274.2 414,268.6" fill="#303030" stroke="#141414" stroke-width="0.8"/>
<polygon points="414,255.6 425.8,261.2 425.8,274.2 414,268.6" fill="#2c2c2c" stroke="#141414" stroke-width="0.5"/>
<polygon points="414,255.6 420.2,253 431.6,258.4 425.8,261.2" fill="#444" stroke="#141414" stroke-width="0.4"/>
<ellipse cx="420" cy="264.6" rx="4.8" ry="5.6" fill="#161616" stroke="#0c0c0c" stroke-width="0.5"/>
<path d="M448.4,286.6 L454.1,290.59999999999997" stroke="#c01016" stroke-width="3.8" fill="none"/>
<path d="M448.4,284.70000000000005 L453.6,288.4 M448.0,288.5 L452.6,293.0" stroke="#5a0508" stroke-width="0.6" fill="none"/>
<ellipse cx="455.6" cy="291.4" rx="3.5" ry="4.9" fill="#b80e13" stroke="#2c0607" stroke-width="1.5"/>
<ellipse cx="455.90000000000003" cy="291.4" rx="1.3" ry="2.3" fill="#960b0f"/>
<path d="M541,232.6 L547.7,236.39999999999998" stroke="#c01016" stroke-width="3.8" fill="none"/>
<path d="M541,230.7 L547.2,234.2 M540.6,234.5 L546.2,238.79999999999998" stroke="#5a0508" stroke-width="0.6" fill="none"/>
<ellipse cx="549.2" cy="237.2" rx="3.5" ry="4.9" fill="#b80e13" stroke="#2c0607" stroke-width="1.5"/>
<ellipse cx="549.5" cy="237.2" rx="1.3" ry="2.3" fill="#960b0f"/>
<g transform="matrix(1,-0.53,0,1,480.5,243.8)">
<rect x="0" y="-10.2" width="9" height="9.8" fill="#2a2008"/>
<path d="M0.8,-1.6 L8.2,-2.8" stroke="#a8882c" stroke-width="1.0"/>
<path d="M0.8,-4.0 L8.2,-5.199999999999999" stroke="#a8882c" stroke-width="1.0"/>
<path d="M0.8,-6.4 L8.2,-7.6" stroke="#a8882c" stroke-width="1.0"/>
<path d="M0.8,-8.799999999999999 L8.2,-10.0" stroke="#a8882c" stroke-width="1.0"/>
<text x="9.7" y="-0.9" font-size="15.5" font-weight="bold" fill="#8e7222" stroke="#0e0a02" stroke-width="1.1" textLength="18.6" lengthAdjust="spacingAndGlyphs">KVZR</text>
<rect x="1.2" y="2.2" width="26.6" height="1.5" fill="#2e0808"/>
</g>
</g>
</svg></body></html>
